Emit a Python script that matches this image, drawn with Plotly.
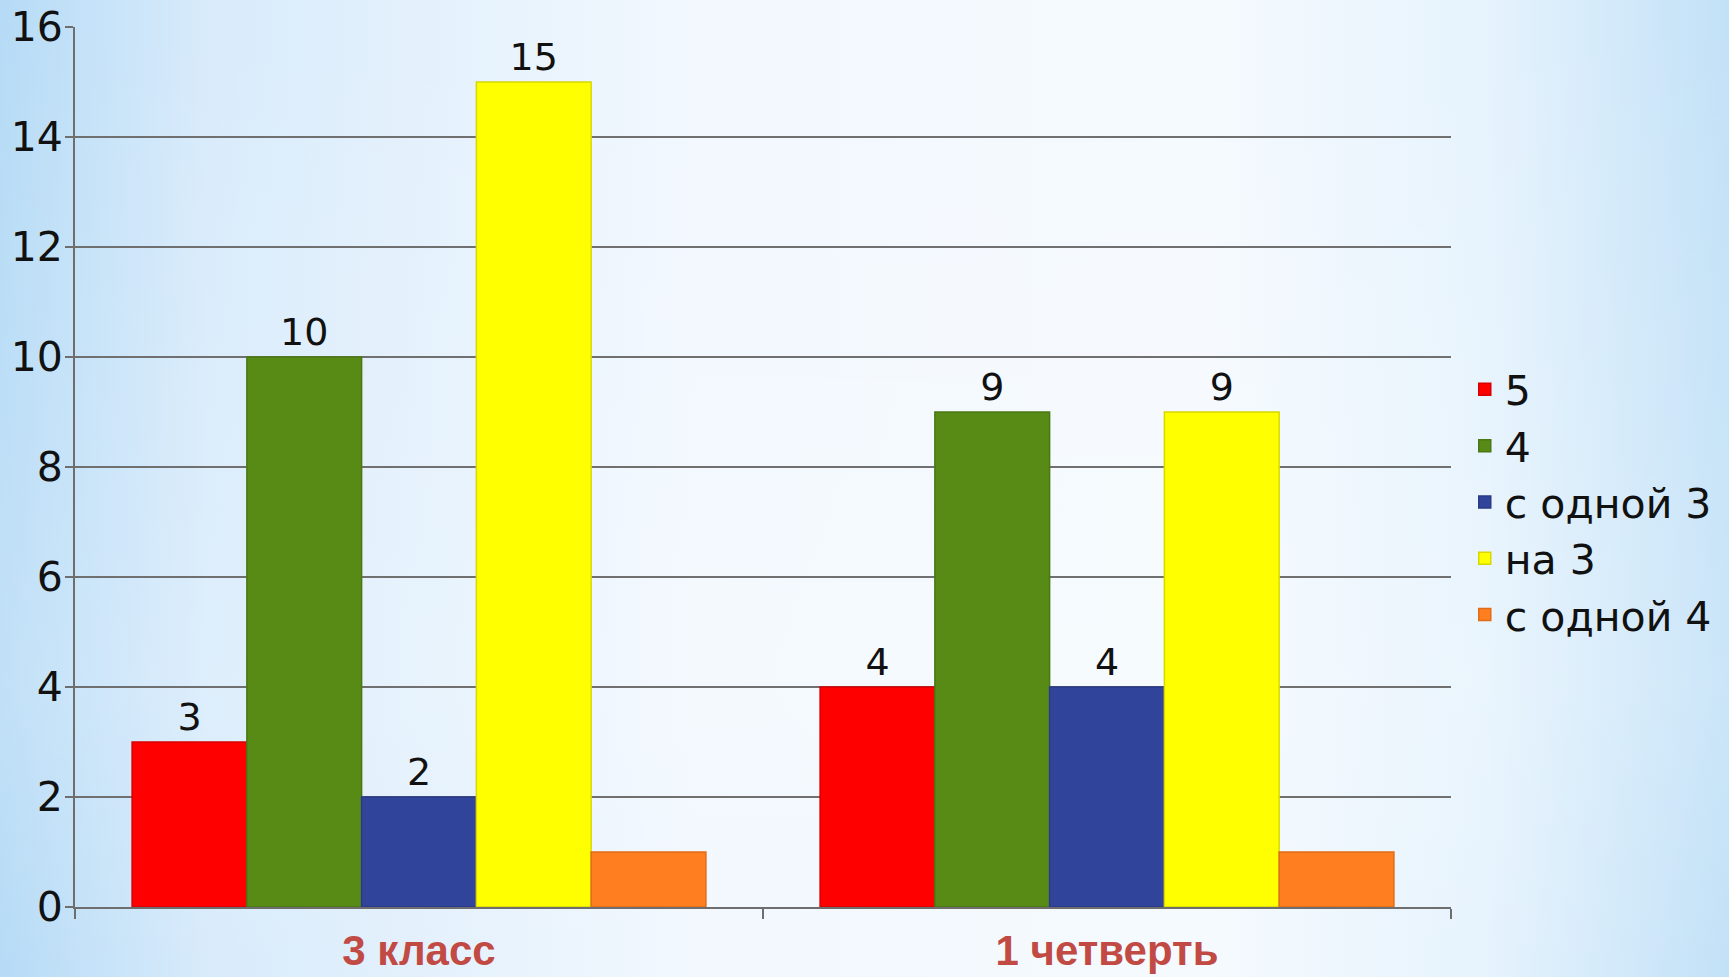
import base64
import plotly.graph_objects as go

categories = ["3 класс", "1 четверть"]
series_names = ["5", "4", "с одной 3", "на 3", "с одной 4"]
values_5 = [3, 4]
values_4 = [10, 9]
values_one3 = [2, 4]
values_na3 = [15, 9]
values_one4 = [1, 1]
show_labels = [True, True, True, True, False]
y_ticks = [0, 2, 4, 6, 8, 10, 12, 14, 16]

colors = ["#ff0000", "#588a16", "#31449b", "#ffff00", "#ff7f20"]
edges = ["#d80000", "#4a7812", "#283a88", "#d8d800", "#e06c18"]

W, H = 1729, 977
ML, MR, MT, MB = 75, 278, 27, 70

fig = go.Figure()
all_values = [values_5, values_4, values_one3, values_na3, values_one4]
for name, vals, c, e, lab in zip(series_names, all_values, colors, edges, show_labels):
    fig.add_trace(go.Bar(
        x=categories, y=vals, name=name,
        marker=dict(color=c, line=dict(color=e, width=1.5)),
        text=[str(v) for v in vals] if lab else None,
        textposition="outside" if lab else "none",
        textfont=dict(family="DejaVu Sans", size=38, color="#111111"),
        cliponaxis=False,
    ))

svg = f'''<svg xmlns="http://www.w3.org/2000/svg" width="{W}" height="{H}">
<defs>
<linearGradient id="g" x1="0" y1="0" x2="1" y2="0">
<stop offset="0" stop-color="#b6dbf6"/>
<stop offset="0.12" stop-color="#d8ebfb"/>
<stop offset="0.4" stop-color="#f2f8fe"/>
<stop offset="0.7" stop-color="#f5fafe"/>
<stop offset="0.86" stop-color="#e6f3fd"/>
<stop offset="1" stop-color="#c2e1f7"/>
</linearGradient>
<linearGradient id="v" x1="0" y1="0" x2="0" y2="1">
<stop offset="0" stop-color="#ffffff" stop-opacity="0"/>
<stop offset="0.7" stop-color="#ffffff" stop-opacity="0.15"/>
<stop offset="1" stop-color="#ffffff" stop-opacity="0.0"/>
</linearGradient>
</defs>
<rect width="{W}" height="{H}" fill="url(#g)"/>
<rect width="{W}" height="{H}" fill="url(#v)"/>
</svg>'''
src = "data:image/svg+xml;base64," + base64.b64encode(svg.encode()).decode()

pw, ph = W - ML - MR, H - MT - MB
fig.add_layout_image(dict(
    source=src, xref="paper", yref="paper",
    x=-ML / pw, y=1 + MT / ph, sizex=W / pw, sizey=H / ph,
    xanchor="left", yanchor="top", sizing="stretch", layer="below",
))

fig.update_layout(
    width=W, height=H,
    margin=dict(l=ML, r=MR, t=MT, b=MB, pad=0, autoexpand=False),
    paper_bgcolor="#e4f1fc",
    plot_bgcolor="rgba(0,0,0,0)",
    barmode="group", bargap=0.166, bargroupgap=0,
    font=dict(family="DejaVu Sans", size=36, color="#111111"),
    showlegend=True,
    legend=dict(
        x=1.01, y=0.46, xanchor="left", yanchor="middle",
        bgcolor="rgba(0,0,0,0)", font=dict(family="DejaVu Sans", size=41, color="#111111"),
        tracegroupgap=0, itemwidth=30,
    ),
    xaxis=dict(
        automargin=False,
        showline=True, linecolor="#6e6e6e", linewidth=2,
        ticks="outside", tickson="boundaries", ticklen=10, tickcolor="#6e6e6e", tickwidth=2,
        tickfont=dict(family="Liberation Sans Narrow, Liberation Sans, Arial", size=42, color="#c24a44",
                      weight="bold"),
        ticklabelstandoff=6,
        showgrid=False,
    ),
    yaxis=dict(
        automargin=False,
        range=[0, 16], tickvals=y_ticks, ticktext=[str(t) for t in y_ticks],
        showline=True, linecolor="#6e6e6e", linewidth=2,
        ticks="outside", ticklen=8, tickcolor="#6e6e6e", tickwidth=2,
        showgrid=True, gridcolor="#707070", gridwidth=2,
        tickfont=dict(family="DejaVu Sans", size=41, color="#111111"),
        ticklabelstandoff=-6,
        zeroline=False,
    ),
)

fig.write_html("out.html", config={"displayModeBar": False},
               post_script="document.body.style.margin='0';document.body.style.overflow='hidden';")
